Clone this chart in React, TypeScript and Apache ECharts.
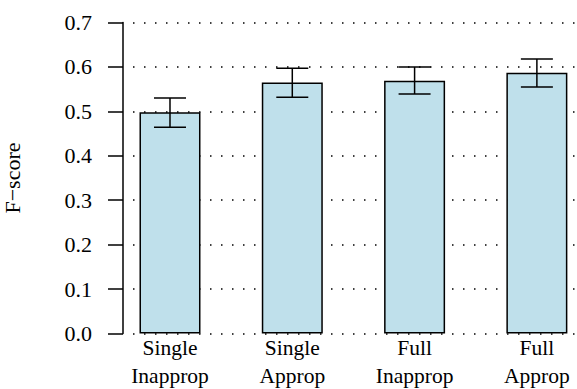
import React, { useEffect, useRef } from "react";
import * as echarts from "echarts";

const categories = ["Single\nInapprop", "Single\nApprop", "Full\nInapprop", "Full\nApprop"];
const fscores = [0.498, 0.565, 0.569, 0.587];
const lowerCI = [0.464, 0.532, 0.539, 0.555];
const upperCI = [0.530, 0.597, 0.600, 0.618];

const FONT = "'Liberation Serif', 'DejaVu Serif', serif";

export default function App() {
  const ref = useRef<HTMLDivElement>(null);
  useEffect(() => {
    if (!ref.current) return;
    const chart = echarts.init(ref.current, undefined, { renderer: "svg" });
    const positions = categories.map((_, i) => i);
    chart.setOption({
      animation: false,
      grid: {
        left: 133,
        right: 0,
        top: 22.5,
        bottom: 55.5,
        containLabel: false,
        outerBoundsMode: "none",
      },
      xAxis: {
        type: "value",
        min: -0.3025,
        max: 3.328,
        axisLine: { show: false, onZero: false },
        axisTick: { show: false },
        splitLine: { show: false },
        axisLabel: {
          customValues: positions,
          formatter: (v: number) => categories[Math.round(v)] ?? "",
          fontFamily: FONT,
          fontSize: 21.5,
          lineHeight: 27.5,
          color: "#000",
          margin: 1,
        },
      },
      yAxis: {
        type: "value",
        min: 0,
        max: 0.7,
        interval: 0.1,
        offset: 10,
        name: "F\u2212score",
        nameLocation: "middle",
        nameRotate: 90,
        nameGap: 100,
        nameTextStyle: { fontFamily: FONT, fontSize: 22, color: "#000" },
        axisLine: { show: true, onZero: false, lineStyle: { color: "#000", width: 1.5 } },
        axisTick: { show: true, length: 15, lineStyle: { color: "#000", width: 1.5 } },
        axisLabel: {
          formatter: (v: number) => v.toFixed(1),
          fontFamily: FONT,
          fontSize: 22,
          color: "#000",
          margin: 31,
        },
        splitLine: {
          show: true,
          lineStyle: { color: "#000", width: 1.5, type: [1.5, 9.5] },
        },
      },
      series: [
        {
          type: "bar",
          data: positions.map((p, i) => [p, fscores[i]]),
          barWidth: 61,
          itemStyle: { color: "#BFE0EB", borderColor: "#000", borderWidth: 1.5 },
          z: 3,
        },
        {
          type: "custom",
          data: positions.map((p, i) => [p, lowerCI[i], upperCI[i]]),
          z: 5,
          renderItem: (params: any, api: any) => {
            const x = api.value(0);
            const lo = api.coord([x, api.value(1)]);
            const hi = api.coord([x, api.value(2)]);
            const half = 16;
            const style = { stroke: "#000", lineWidth: 1.5 };
            return {
              type: "group",
              children: [
                { type: "line", shape: { x1: lo[0], y1: lo[1], x2: hi[0], y2: hi[1] }, style },
                { type: "line", shape: { x1: lo[0] - half, y1: lo[1], x2: lo[0] + half, y2: lo[1] }, style },
                { type: "line", shape: { x1: hi[0] - half, y1: hi[1], x2: hi[0] + half, y2: hi[1] }, style },
              ],
            };
          },
        },
      ],
    });
    return () => chart.dispose();
  }, []);
  return (
    <div
      ref={ref}
      style={{ position: "fixed", left: 0, top: 0, width: 577, height: 389, background: "#fff" }}
    />
  );
}
